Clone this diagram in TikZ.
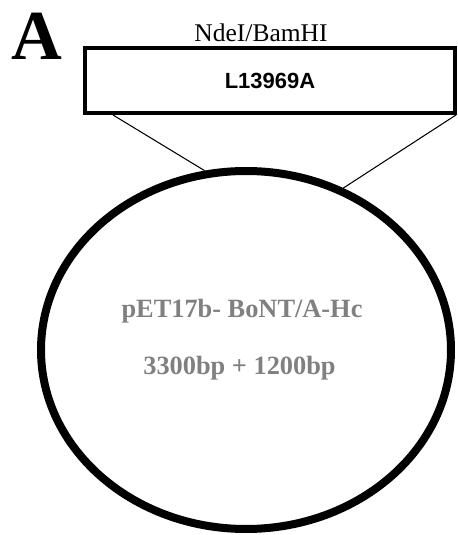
\documentclass[tikz,border=0pt]{standalone}
\usepackage{fontspec}
\setmainfont{Liberation Serif}
\newfontfamily\arialfont{Liberation Sans}
\usepackage{tikz}
\usetikzlibrary{shapes.geometric, positioning}
\definecolor{labelgray}{RGB}{128,128,128}

\begin{document}
\begin{tikzpicture}[
    insertbox/.style={rectangle, draw, line width=0.08cm, minimum width=7.4cm, minimum height=1.3cm, inner sep=0pt, font=\arialfont\bfseries\fontsize{12.5}{14}\selectfont},
    vector/.style={ellipse, draw, line width=0.16cm, minimum width=8.2cm, minimum height=7.16cm, inner sep=0pt},
    vectortext/.style={font=\bfseries\fontsize{15}{18}\selectfont, text=labelgray}
]
\useasboundingbox (0,0) rectangle (9.14,10.7);

% Panel letter
\node[font=\bfseries\fontsize{40}{44}\selectfont] (panel) at (0.74,9.98) {A};

% Insert and cloning sites
\node[insertbox] (insert) at (5.4,9.09) {L13969A};
\node[font=\fontsize{14.5}{17}\selectfont] (sites) at (5.22,10.04) {NdeI/BamHI};

% Plasmid
\node[vector] (plasmid) at (4.92,3.7) {};
\node[vectortext] (name) at (4.84,4.48) {pET17b- BoNT/A-Hc};
\node[vectortext] (size) at (4.79,3.34) {3300bp + 1200bp};

% Insertion lines
\draw[line width=0.6pt] ([xshift=0.6cm]insert.south west) -- (plasmid.103);
\draw[line width=0.6pt] ([xshift=-0.02cm]insert.south east) -- (plasmid.59);

\end{tikzpicture}
\end{document}
